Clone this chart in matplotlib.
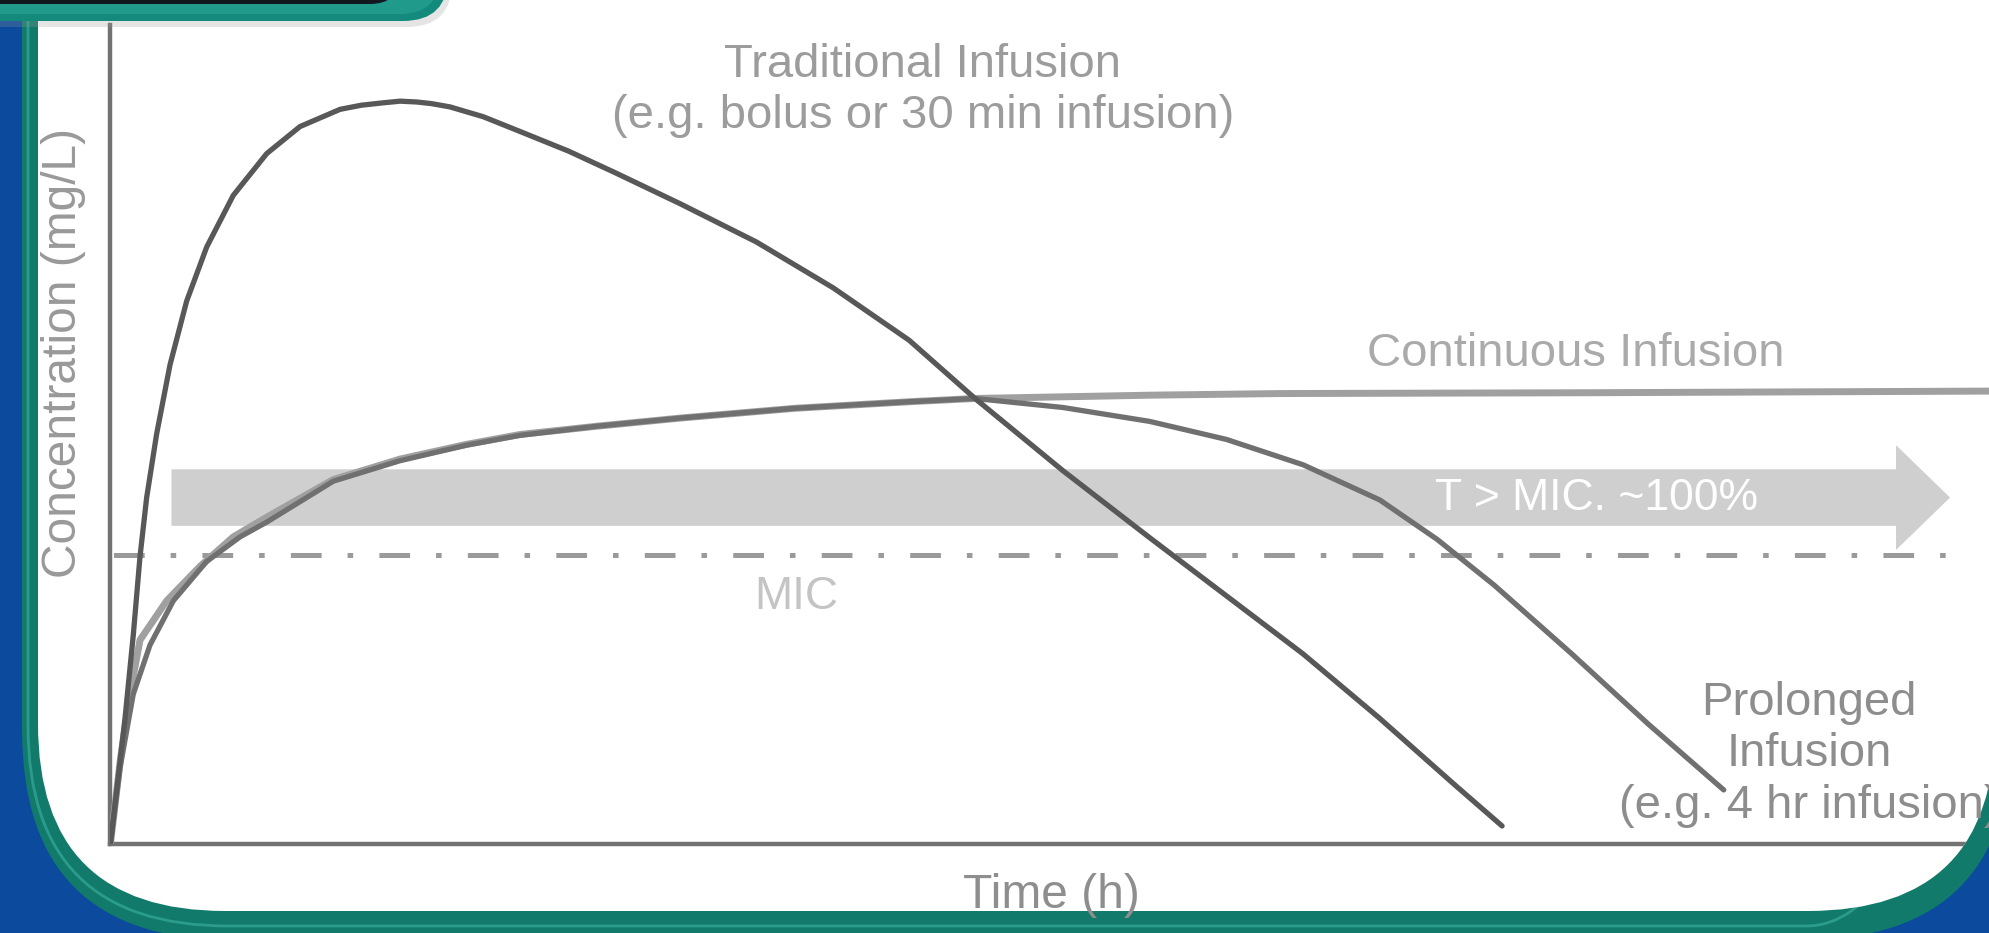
import matplotlib
matplotlib.use("Agg")
import matplotlib.pyplot as plt
from matplotlib.patches import FancyBboxPatch

plt.rcParams['font.family'] = ['Liberation Sans', 'DejaVu Sans']
plt.rcParams['lines.scale_dashes'] = False

# curves: time (h) / concentration (arbitrary units)
trad_t = [0, 0.186, 0.292, 0.378, 0.463, 0.591, 0.761, 0.974, 1.23, 1.569, 1.996, 2.421,
          2.932, 3.2, 3.484, 3.7, 3.911, 4.1, 4.336, 4.761, 5.23, 5.85, 6.46, 7.27, 8.25,
          9.23, 10.20, 11.04, 12.16, 13.27, 14.25, 15.23, 16.20, 17.18, 17.77]
trad_c = [0, 15.3, 25.5, 35.1, 42.3, 50.1, 58.5, 66.3, 72.9, 79.2, 84.3, 87.6,
          89.7, 90.2, 90.5, 90.7, 90.6, 90.4, 90.0, 88.8, 87.0, 84.6, 81.9, 78.2, 73.5,
          67.9, 61.5, 54.4, 45.6, 37.4, 30.3, 23.2, 15.4, 7.1, 2.2]

prol_t = [0, 0.123, 0.292, 0.506, 0.804, 1.229, 1.655, 1.996, 2.846, 3.698, 4.549, 5.23,
          6.2, 7.27, 8.74, 10.20, 11.04, 12.16, 13.27, 14.25, 15.23, 16.21, 16.94, 17.67,
          18.65, 19.63, 20.60]
prol_c = [0, 9.3, 18.3, 24.3, 29.7, 34.5, 37.5, 39.3, 44.3, 46.8, 48.7, 49.9,
          51.0, 52.0, 53.2, 54.0, 54.4, 53.3, 51.6, 49.4, 46.3, 42.0, 37.2, 31.6,
          23.3, 14.7, 6.6]

cont_t = [0, 0.13, 0.25, 0.378, 0.719, 1.144, 1.569, 1.996, 2.846, 3.698, 4.549, 5.23,
          6.2, 7.27, 8.74, 10.20, 11.04, 13.27, 14.93, 18.9, 24.0]
cont_c = [0, 10.5, 18.3, 24.9, 29.7, 33.9, 37.5, 39.9, 44.5, 47.0, 48.8, 50.0,
          51.0, 52.0, 53.2, 54.0, 54.4, 54.8, 55.0, 55.1, 55.3]

mic_level = 35.3
mic_span = [0, 23.45]
tmic_span = [0.78, 23.49]
tmic_level = 42.3

fig = plt.figure(figsize=(19.9, 9.33), dpi=100)
fig.patch.set_facecolor('#0b4a9c')

# background frame (pixel coordinates)
bg = fig.add_axes([0, 0, 1, 1], zorder=0)
bg.set_xlim(0, 1990)
bg.set_ylim(933, 0)
bg.axis('off')
bg.add_patch(FancyBboxPatch((22, -300), 1990, 1240, boxstyle="round,pad=0,rounding_size=210",
                            fc='#117a6b', ec='none'))
bg.add_patch(FancyBboxPatch((28, -300), 1978, 1226, boxstyle="round,pad=0,rounding_size=200",
                            fc='none', ec='#3db3a3', lw=2, alpha=0.6))
panel = FancyBboxPatch((38, -300), 1957, 1211, boxstyle="round,pad=0,rounding_size=187",
                       fc='white', ec='none')
bg.add_patch(panel)

# chart
ax = fig.add_axes([110.4 / 1990, 89 / 933, 1879.6 / 1990, 819 / 933], zorder=1)
ax.set_facecolor('none')
ax.set_xlim(0, 24)
ax.set_ylim(0, 100)
ax.set_xticks([])
ax.set_yticks([])
for s in ['top', 'right']:
    ax.spines[s].set_visible(False)
for s in ['left', 'bottom']:
    ax.spines[s].set_color('#727272')
    ax.spines[s].set_linewidth(3.2)
    ax.spines[s].set_clip_path(panel)

arr = ax.arrow(tmic_span[0], tmic_level, tmic_span[1] - tmic_span[0], 0, width=6.9,
               head_width=12.8, head_length=0.69, length_includes_head=True,
               fc='#cfcfcf', ec='none', zorder=1)
arr.set_clip_path(panel)

mic, = ax.plot(mic_span, [mic_level, mic_level], color='#9a9a9a', lw=3.6,
               linestyle=(61.2, (22.1, 18.7, 4.0, 18.9)), dash_capstyle='butt', zorder=2)

l1, = ax.plot(cont_t, cont_c, color='#a0a0a0', lw=5.0, zorder=3, solid_capstyle='round')
l2, = ax.plot(prol_t, prol_c, color='#707070', lw=3.8, zorder=4, solid_capstyle='round')
l3, = ax.plot(trad_t, trad_c, color='#585858', lw=3.8, zorder=5, solid_capstyle='round')
for ln in [mic, l1, l2, l3]:
    ln.set_clip_path(panel)

ax.text(10.375, 92.0, "Traditional Infusion\n(e.g. bolus or 30 min infusion)", ha='center',
        va='center', fontsize=34, color='#9c9c9c', linespacing=1.21)
ax.text(18.705, 59.8, "Continuous Infusion", ha='center', va='center', fontsize=34,
        color='#aaaaaa')
ax.text(18.97, 42.2, "T > MIC. ~100%", ha='center', va='center', fontsize=32, color='white',
        zorder=6)
ax.text(8.76, 30.2, "MIC", ha='center', va='center', fontsize=33, color='#c4c4c4')
pl = ax.text(21.69, 10.93, "Prolonged\nInfusion\n(e.g. 4 hr infusion)", ha='center',
             va='center', fontsize=34, color='#8d8d8d', linespacing=1.23)
pl.set_clip_path(panel)

yl = fig.text(64 / 1990, (933 - 353) / 933, "Concentration (mg/L)", rotation=90, ha='center',
              va='center', fontsize=34.5, color='#999999')
yl.set_clip_path(panel)
fig.text(1051 / 1990, (933 - 896) / 933, "Time (h)", ha='center', va='center',
         fontsize=34.5, color='#8e8e8e')

# title tab at top-left
top = fig.add_axes([0, 0, 1, 1], zorder=3)
top.set_xlim(0, 1990)
top.set_ylim(933, 0)
top.axis('off')
top.add_patch(FancyBboxPatch((-100, -100), 552, 127, boxstyle="round,pad=0,rounding_size=45",
                             fc='#9a9a9a', ec='none', alpha=0.25))
top.add_patch(FancyBboxPatch((-100, -100), 548, 121, boxstyle="round,pad=0,rounding_size=45",
                             fc='#138a7b', ec='none'))
top.add_patch(FancyBboxPatch((-100, -100), 540, 114, boxstyle="round,pad=0,rounding_size=40",
                             fc='#2aa797', ec='none', alpha=0.6))
top.add_patch(FancyBboxPatch((-100, -100), 500, 104, boxstyle="round,pad=0,rounding_size=30",
                             fc='#111820', ec='none'))

fig.savefig('out.png', dpi=100, facecolor=fig.get_facecolor())
